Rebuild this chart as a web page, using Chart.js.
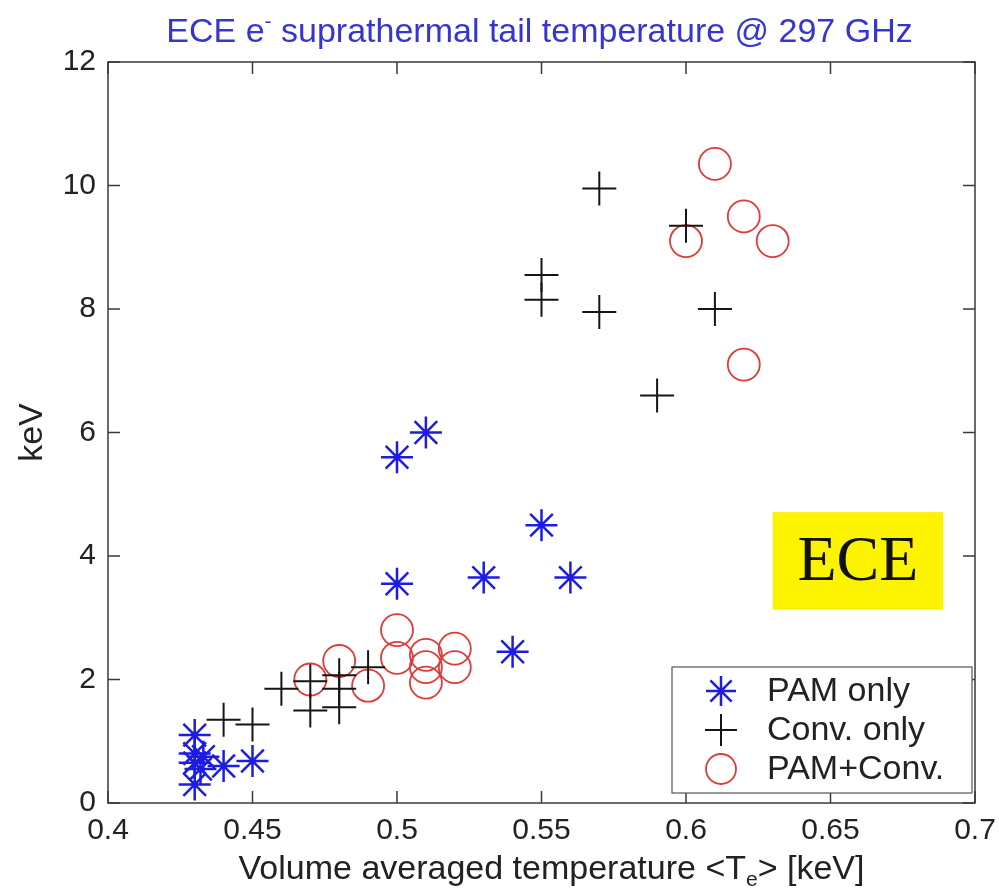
<!DOCTYPE html>
<html>
<head>
<meta charset="utf-8">
<script src="https://cdn.jsdelivr.net/npm/chart.js@4.4.1/dist/chart.umd.min.js"></script>
<style>
  html, body { margin: 0; padding: 0; background: #fff; }
  #wrap { width: 999px; height: 893px; }
</style>
</head>
<body>
<div id="wrap"><canvas id="eceChart" width="999" height="893"></canvas></div>
<script>
// PAM only (blue asterisks)
const pamX = [0.50, 0.51, 0.55, 0.50, 0.53, 0.56, 0.54, 0.43, 0.43, 0.433, 0.43, 0.432, 0.43, 0.44, 0.45];
const pamY = [5.6, 6.0, 4.5, 3.55, 3.65, 3.65, 2.45, 1.1, 0.8, 0.75, 0.65, 0.55, 0.3, 0.6, 0.68];

// Conv. only (black crosses)
const convX = [0.57, 0.60, 0.55, 0.55, 0.57, 0.61, 0.59, 0.44, 0.45, 0.46, 0.47, 0.47, 0.48, 0.48, 0.48, 0.49];
const convY = [9.95, 9.35, 8.55, 8.15, 7.95, 8.0, 6.6, 1.35, 1.27, 1.85, 1.97, 1.5, 2.07, 1.85, 1.55, 2.2];

// PAM+Conv. (red circles)
const bothX = [0.61, 0.62, 0.60, 0.63, 0.62, 0.50, 0.50, 0.51, 0.51, 0.51, 0.52, 0.52, 0.47, 0.48, 0.49];
const bothY = [10.35, 9.5, 9.1, 9.1, 7.1, 2.8, 2.35, 2.4, 2.2, 1.95, 2.5, 2.2, 2.0, 2.3, 1.9];

const seriesNames = ['PAM only', 'Conv. only', 'PAM+Conv.'];
const xTicks = [0.4, 0.45, 0.5, 0.55, 0.6, 0.65, 0.7];
const yTicks = [0, 2, 4, 6, 8, 10, 12];

// text pieces: [text, 'sup' | 'sub' | null]
const titleParts = [['ECE e', null], ['-', 'sup'], [' suprathermal tail temperature @ 297 GHz', null]];
const xLabelParts = [['Volume averaged temperature <T', null], ['e', 'sub'], ['> [keV]', null]];

const FONT = "'Liberation Sans', Arial, Helvetica, sans-serif";

function toPoints(xs, ys) {
    return xs.map((x, i) => ({ x: x, y: ys[i] }));
}

// draws a line of text with super/subscripts, centred on cx
function drawRich(ctx, parts, cx, baseY, size, color) {
    const small = Math.round(size * 0.62);
    const fontFor = p => (p[1] ? small : size) + 'px ' + FONT;
    let total = 0;
    parts.forEach(p => { ctx.font = fontFor(p); total += ctx.measureText(p[0]).width; });
    let x = cx - total / 2;
    ctx.fillStyle = color;
    ctx.textAlign = 'left';
    ctx.textBaseline = 'alphabetic';
    parts.forEach(p => {
        ctx.font = fontFor(p);
        let y = baseY;
        if (p[1] === 'sup') y -= size * 0.42;
        if (p[1] === 'sub') y += size * 0.22;
        ctx.fillText(p[0], x, y);
        x += ctx.measureText(p[0]).width;
    });
}

// box around the plot + MATLAB style inward ticks
const frameTicks = {
    id: 'frameTicks',
    afterDatasetsDraw(chart) {
        const { ctx, chartArea: a } = chart;
        const xs = chart.scales.x, ys = chart.scales.y;
        const len = 12;
        ctx.save();
        ctx.strokeStyle = '#3a3a3a';
        ctx.lineWidth = 1.5;
        ctx.strokeRect(a.left, a.top, a.right - a.left, a.bottom - a.top);
        ctx.beginPath();
        xTicks.forEach(v => {
            const px = xs.getPixelForValue(v);
            ctx.moveTo(px, a.bottom); ctx.lineTo(px, a.bottom - len);
            ctx.moveTo(px, a.top); ctx.lineTo(px, a.top + len);
        });
        yTicks.forEach(v => {
            const py = ys.getPixelForValue(v);
            ctx.moveTo(a.left, py); ctx.lineTo(a.left + len, py);
            ctx.moveTo(a.right, py); ctx.lineTo(a.right - len, py);
        });
        ctx.stroke();
        ctx.restore();
    }
};

// title and x axis label (with the sup/subscripts)
const labels = {
    id: 'labels',
    afterDraw(chart) {
        const { ctx, chartArea: a } = chart;
        const mid = (a.left + a.right) / 2;
        ctx.save();
        drawRich(ctx, titleParts, mid - 2, 42, 34, '#3535d2');
        drawRich(ctx, xLabelParts, mid + 10, 879, 34, '#222');
        ctx.restore();
    }
};

// yellow ECE label
const eceBox = {
    id: 'eceBox',
    afterDatasetsDraw(chart) {
        const { ctx } = chart;
        const xs = chart.scales.x, ys = chart.scales.y;
        const x0 = xs.getPixelForValue(0.630), x1 = xs.getPixelForValue(0.689);
        const y0 = ys.getPixelForValue(4.71), y1 = ys.getPixelForValue(3.13);
        ctx.save();
        ctx.fillStyle = '#fbf300';
        ctx.fillRect(x0, y0, x1 - x0, y1 - y0);
        ctx.fillStyle = '#111';
        ctx.font = "64px 'Liberation Serif', 'Times New Roman', serif";
        ctx.textAlign = 'center';
        ctx.textBaseline = 'alphabetic';
        ctx.fillText('ECE', (x0 + x1) / 2, y1 - 30);
        ctx.restore();
    }
};

// legend box inside lower right corner
const insideLegend = {
    id: 'insideLegend',
    afterDatasetsDraw(chart) {
        const { ctx, chartArea: a } = chart;
        const w = 300, h = 126;
        const bx = a.right - 3 - w, by = a.bottom - 10 - h;
        ctx.save();
        ctx.fillStyle = '#fff';
        ctx.fillRect(bx, by, w, h);
        ctx.strokeStyle = '#555';
        ctx.lineWidth = 1.2;
        ctx.strokeRect(bx, by, w, h);
        ctx.font = '34px ' + FONT;
        ctx.textBaseline = 'middle';
        ctx.textAlign = 'left';
        chart.data.datasets.forEach((ds, i) => {
            const cy = by + 24 + i * 39;
            ctx.strokeStyle = ds.borderColor;
            ctx.fillStyle = 'rgba(0,0,0,0)';
            ctx.lineWidth = ds.borderWidth;
            Chart.helpers.drawPoint(ctx, {
                pointStyle: ds.pointStyle,
                radius: ds.pointRadius - 1,
                borderWidth: ds.borderWidth,
                rotation: 0
            }, bx + 49, cy);
            ctx.fillStyle = '#222';
            ctx.fillText(ds.label, bx + 95, cy + 1);
        });
        ctx.restore();
    }
};

new Chart(document.getElementById('eceChart').getContext('2d'), {
    type: 'scatter',
    data: {
        datasets: [
            {
                label: seriesNames[0],
                data: toPoints(pamX, pamY),
                pointStyle: 'star',
                pointRadius: 16,
                borderColor: '#1c1ce6',
                backgroundColor: 'rgba(0,0,0,0)',
                borderWidth: 2.5
            },
            {
                label: seriesNames[1],
                data: toPoints(convX, convY),
                pointStyle: 'cross',
                pointRadius: 17,
                borderColor: '#151515',
                backgroundColor: 'rgba(0,0,0,0)',
                borderWidth: 2
            },
            {
                label: seriesNames[2],
                data: toPoints(bothX, bothY),
                pointStyle: 'circle',
                pointRadius: 16,
                borderColor: '#e03a3a',
                backgroundColor: 'rgba(0,0,0,0)',
                borderWidth: 1.8
            }
        ]
    },
    options: {
        responsive: false,
        animation: false,
        layout: { padding: { left: 0, right: 24, top: 62, bottom: 0 } },
        scales: {
            x: {
                type: 'linear',
                min: 0.4,
                max: 0.7,
                afterFit: s => { s.height = 90; s.paddingLeft = 0; s.paddingRight = 0; },
                afterBuildTicks: s => { s.ticks = xTicks.map(v => ({ value: v })); },
                grid: { display: false, drawTicks: false },
                border: { display: false },
                ticks: {
                    color: '#222',
                    padding: 10,
                    font: { family: FONT, size: 30 },
                    callback: v => String(v)
                },
                title: { display: false }
            },
            y: {
                min: 0,
                max: 12,
                afterFit: s => { s.width = 108; s.paddingTop = 0; s.paddingBottom = 0; },
                afterBuildTicks: s => { s.ticks = yTicks.map(v => ({ value: v })); },
                grid: { display: false, drawTicks: false },
                border: { display: false },
                ticks: {
                    color: '#222',
                    padding: 12,
                    font: { family: FONT, size: 30 }
                },
                title: {
                    display: true,
                    text: 'keV',
                    color: '#222',
                    font: { family: FONT, size: 34 },
                    padding: { top: 12, bottom: 0 }
                }
            }
        },
        plugins: {
            legend: { display: false },
            tooltip: { enabled: false },
            title: { display: false }
        }
    },
    plugins: [frameTicks, eceBox, insideLegend, labels]
});
</script>
</body>
</html>
